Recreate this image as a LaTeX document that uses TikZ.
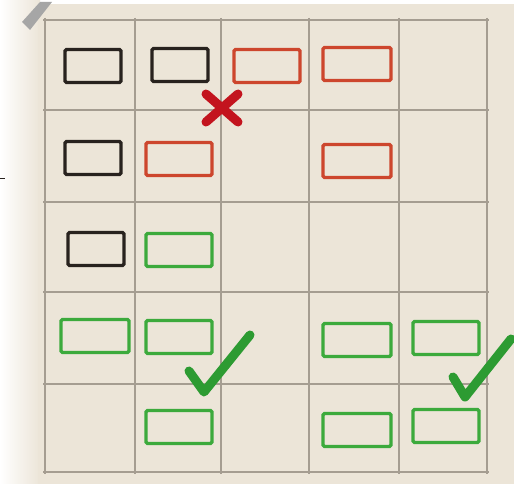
\documentclass[tikz,border=0pt]{standalone}
\usetikzlibrary{shapes.misc}
\definecolor{paper}{RGB}{236,229,216}
\definecolor{gridc}{RGB}{165,157,145}
\definecolor{inkb}{RGB}{40,34,30}
\definecolor{inkr}{RGB}{205,70,45}
\definecolor{inkg}{RGB}{60,170,60}
\definecolor{crossc}{RGB}{195,20,30}
\definecolor{checkc}{RGB}{45,155,50}
\begin{document}
\begin{tikzpicture}[x=1pt,y=-1pt,
  box/.style={draw=#1,line width=3.2pt,rounded corners=1.5pt,minimum width=56pt,minimum height=33pt,inner sep=0pt,fill=paper},
  gl/.style={gridc,line width=1.2pt},
  strokemark/.style={line width=9pt,line cap=round,line join=round}]
\useasboundingbox (0,0) rectangle (514,484);
\fill[white] (0,0) rectangle (514,484);
\shade[left color=white,right color=paper] (0,0) rectangle (40,484);
\fill[paper] (38,4) rectangle (514,484);
\fill[gray!70] (22,22) -- (40,2) -- (52,2) -- (30,30) -- cycle;
% grid
\foreach \x in {45,135,221,309,399,487}{\draw[gl] (\x,18) -- (\x,474);}
\foreach \y in {20,110,202,292,384,472}{\draw[gl] (43,\y) -- (489,\y);}
\draw[inkb,line width=1pt] (0,178) -- (5,178);
% row 1
\node[box=inkb] (a1) at (93,66) {};
\node[box=inkb] (a2) at (180,65) {};
\node[box=inkr,minimum width=66pt] (a3) at (267,66) {};
\node[box=inkr,minimum width=68pt] (a4) at (357,64) {};
% row 2
\node[box=inkb] (b1) at (93,158) {};
\node[box=inkr,minimum width=66pt] (b2) at (179,159) {};
\node[box=inkr,minimum width=68pt] (b4) at (357,161) {};
% row 3
\node[box=inkb] (c1) at (96,249) {};
\node[box=inkg,minimum width=66pt] (c2) at (179,250) {};
% row 4
\node[box=inkg,minimum width=68pt] (d1) at (95,336) {};
\node[box=inkg,minimum width=66pt] (d2) at (179,337) {};
\node[box=inkg,minimum width=68pt] (d4) at (357,340) {};
\node[box=inkg,minimum width=66pt] (d5) at (446,338) {};
% row 5
\node[box=inkg,minimum width=66pt] (e2) at (179,427) {};
\node[box=inkg,minimum width=68pt] (e4) at (357,430) {};
\node[box=inkg,minimum width=66pt] (e5) at (446,426) {};
% cross
\coordinate (x0) at (222,108);
\draw[crossc,strokemark] ([shift={(-16,-14)}]x0) -- ([shift={(16,14)}]x0);
\draw[crossc,strokemark] ([shift={(-16,14)}]x0) -- ([shift={(16,-14)}]x0);
% checks
\coordinate (k1a) at (189,371); \coordinate (k1b) at (204,392); \coordinate (k1c) at (250,335);
\draw[checkc,strokemark] (k1a) -- (k1b) -- (k1c);
\coordinate (k2a) at (453,377); \coordinate (k2b) at (465,397); \coordinate (k2c) at (511,339);
\draw[checkc,strokemark] (k2a) -- (k2b) -- (k2c);
\end{tikzpicture}
\end{document}
